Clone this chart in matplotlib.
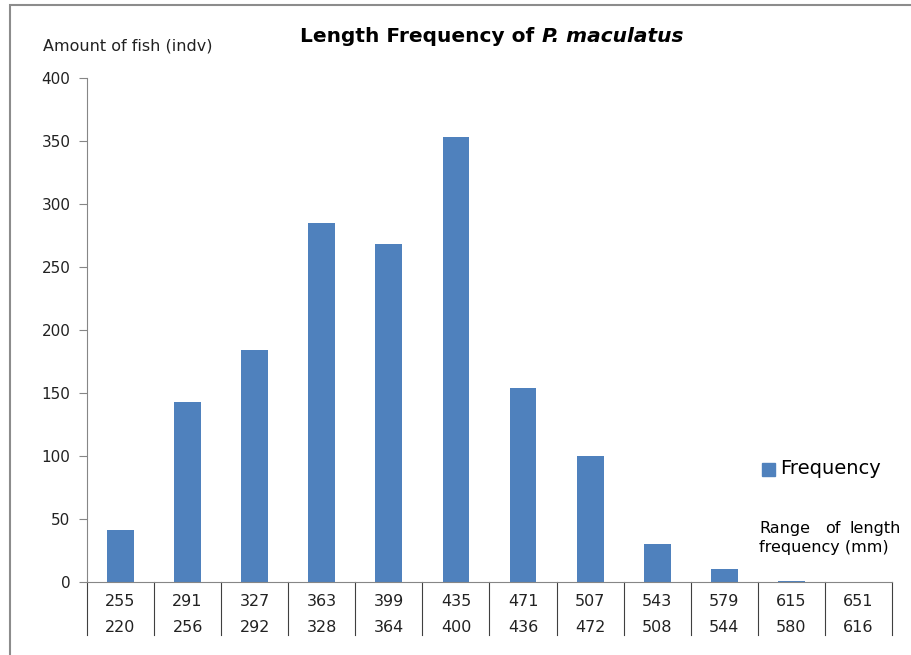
import matplotlib.pyplot as plt
from matplotlib.patches import Rectangle
from matplotlib.transforms import blended_transform_factory

# upper and lower bounds of each length class (mm)
upper_bounds = ['255', '291', '327', '363', '399', '435', '471', '507', '543', '579', '615', '651']
lower_bounds = ['220', '256', '292', '328', '364', '400', '436', '472', '508', '544', '580', '616']
frequency = [41, 143, 184, 285, 268, 353, 154, 100, 30, 10, 1, 0]

bar_color = '#4F81BD'
axis_color = '#868686'

plt.rcParams['font.family'] = ['DejaVu Sans']

fig = plt.figure(figsize=(9.12, 6.55), dpi=100)
ax = fig.add_axes([87 / 912, 1 - 582 / 655, (892 - 87) / 912, (582 - 78) / 655])

x = list(range(len(frequency)))
ax.bar(x, frequency, width=0.4, color=bar_color, label='Frequency', zorder=2)

ax.set_xlim(-0.5, len(frequency) - 0.5)
ax.set_ylim(0, 400)
ax.set_yticks(range(0, 401, 50))
ax.tick_params(axis='y', direction='out', length=6, color=axis_color,
               labelsize=11, pad=6, labelcolor='#222222')
ax.set_xticks([])

for side in ['top', 'right']:
    ax.spines[side].set_visible(False)
ax.spines['left'].set_color(axis_color)
ax.spines['bottom'].set_color(axis_color)

# category table under the axis
trans = blended_transform_factory(ax.transData, ax.transAxes)
for i in range(len(frequency) + 1):
    ax.plot([i - 0.5, i - 0.5], [0, -53 / 504], transform=trans, color='#404040',
            lw=0.8, clip_on=False)
for i, (hi, lo) in enumerate(zip(upper_bounds, lower_bounds)):
    ax.text(i, -19 / 504, hi, transform=trans, ha='center', va='center',
            fontsize=11.5, color='#222222')
    ax.text(i, -45 / 504, lo, transform=trans, ha='center', va='center',
            fontsize=11.5, color='#222222')

# y label
fig.text(43 / 912, 1 - 46 / 655, 'Amount of fish (indv)', fontsize=11.5,
         va='center', ha='left', color='#222222')

# title: plain bold part followed by the italic species name
t1 = fig.text(300 / 912, 1 - 36 / 655, 'Length Frequency of', fontsize=14.5,
              fontweight='bold', ha='left', va='center')
renderer = fig.canvas.get_renderer()
bb = t1.get_window_extent(renderer)
fig.text((bb.x1 + 8) / 912, 1 - 36 / 655, 'P. maculatus', fontsize=14.5,
         fontweight='bold', style='italic', ha='left', va='center')

# legend-like annotation
fig.patches.append(Rectangle((762 / 912, 1 - 476 / 655), 13 / 912, 13 / 655,
                             transform=fig.transFigure, color=bar_color))
fig.text(780 / 912, 1 - 469 / 655, 'Frequency', fontsize=14, va='center', ha='left')
fig.text(759 / 912, 1 - 533 / 655, 'Range', fontsize=11.5, va='baseline', ha='left')
fig.text(833 / 912, 1 - 533 / 655, 'of', fontsize=11.5, va='baseline', ha='center')
fig.text(901 / 912, 1 - 533 / 655, 'length', fontsize=11.5, va='baseline', ha='right')
fig.text(759 / 912, 1 - 552 / 655, 'frequency (mm)', fontsize=11.5, va='baseline', ha='left')

# chart border
fig.patches.append(Rectangle((10 / 912, -0.01), 1.0, 1 - 5 / 655 + 0.01,
                             transform=fig.transFigure, fill=False,
                             edgecolor='#8c8c8c', lw=1.5))

fig.savefig('out.png', dpi=100)
